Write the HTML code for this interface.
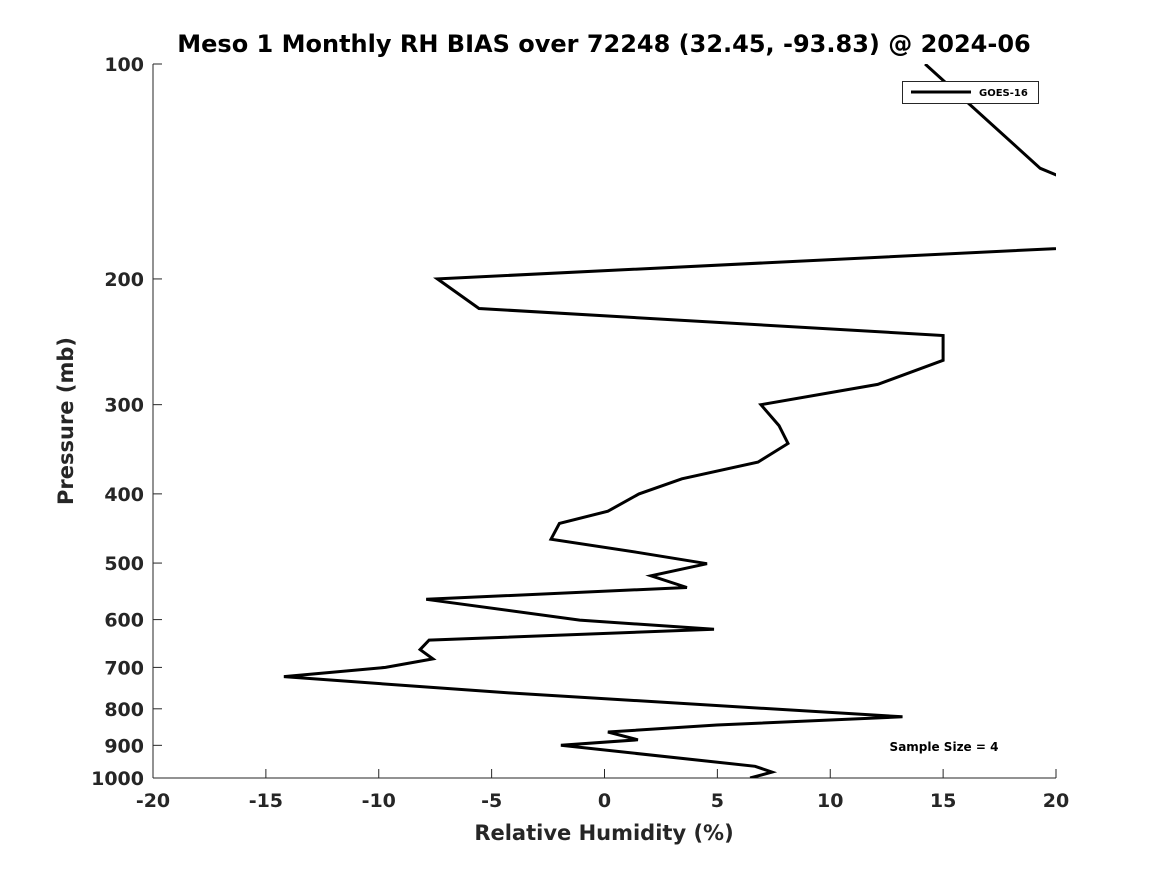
<!DOCTYPE html>
<html><head><meta charset="utf-8"><style>
html,body{margin:0;padding:0;background:#fff;}
svg{display:block;font-family:"DejaVu Sans","Liberation Sans",sans-serif;font-weight:bold;}
</style></head><body>
<svg id="chart" width="1167" height="875" viewBox="0 0 1167 875" xmlns="http://www.w3.org/2000/svg">
<defs><clipPath id="plotclip"><rect x="153" y="64" width="903" height="714"/></clipPath></defs>
<rect width="1167" height="875" fill="#fff"/>
<text x="604" y="52" text-anchor="middle" font-size="24" fill="#000">Meso 1 Monthly RH BIAS over 72248 (32.45, -93.83) @ 2024-06</text>
<g id="axes"></g>
<g id="series" clip-path="url(#plotclip)"></g>
<g>
<rect x="902.5" y="81.5" width="136" height="22" fill="#fff" stroke="#262626" stroke-width="1"/>
<line x1="911" y1="92" x2="971" y2="92" stroke="#000" stroke-width="3"/>
<text x="979" y="96" font-size="10" fill="#000">GOES-16</text>
</g>
<text x="944" y="751" text-anchor="middle" font-size="12" fill="#000">Sample Size = 4</text>
<text x="604" y="840" text-anchor="middle" font-size="21" fill="#262626">Relative Humidity (%)</text>
<text transform="translate(73,421) rotate(-90)" text-anchor="middle" font-size="21" fill="#262626">Pressure (mb)</text>
</svg>
<script>
const pressures = [100,140,143,150,175,200,220,240,260,281,300,321,340,361,381,400,423,440,463,483,501,521,541,562,601,619,641,661,681,700,721,744,760,821,843,862,884,900,963,981,1000];
const rhBias = [14.2,19.3,20,21.5,30,-7.4,-5.56,15.0,15.0,12.1,6.93,7.73,8.13,6.8,3.43,1.53,0.15,-2.0,-2.37,1.44,4.54,2.06,3.65,-7.9,-1.1,4.85,-7.77,-8.17,-7.6,-9.7,-14.2,-8.35,-4.23,13.2,4.98,0.15,1.48,-1.93,6.67,7.42,6.45];
const xTicks = [-20,-15,-10,-5,0,5,10,15,20];
const yTicks = [100,200,300,400,500,600,700,800,900,1000];
const NS='http://www.w3.org/2000/svg';
const X0=153,X1=1056,Y0=64,Y1=778,XMIN=-20,XMAX=20;
function xs(v){return X0+(v-XMIN)/(XMAX-XMIN)*(X1-X0);}
function ys(p){return Y0+(Math.log10(p)-2)*(Y1-Y0);}
function mk(tag,attrs,parent){const e=document.createElementNS(NS,tag);for(const k in attrs)e.setAttribute(k,attrs[k]);parent.appendChild(e);return e;}
const axes=document.getElementById('axes');
const xl=mk('line',{x1:X0,y1:Y1,x2:X1,y2:Y1,stroke:'#262626','stroke-width':1},axes);


const yl=mk('line',{x1:X0,y1:Y0,x2:X0,y2:Y1,stroke:'#262626','stroke-width':1},axes);


xTicks.forEach(t=>{
  const x=xs(t);
  const tk=mk('line',{x1:x,y1:Y1,x2:x,y2:Y1-9,stroke:'#262626','stroke-width':1},axes);
  
  
  const tx=mk('text',{x:x,y:Y1+29,'text-anchor':'middle','font-size':19,fill:'#262626'},axes);
  tx.textContent=String(t);
  
  
});
yTicks.forEach(t=>{
  const y=ys(t);
  const tk=mk('line',{x1:X0,y1:y,x2:X0+9,y2:y,stroke:'#262626','stroke-width':1},axes);
  
  
  const tx=mk('text',{x:X0-9,y:y+7,'text-anchor':'end','font-size':19,fill:'#262626'},axes);
  tx.textContent=String(t);
  
  
});
const series=document.getElementById('series');
const pts=pressures.map((p,i)=>xs(rhBias[i]).toFixed(1)+','+ys(p).toFixed(1)).join(' ');
const line=mk('polyline',{points:pts,fill:'none',stroke:'#000','stroke-width':3,'stroke-linejoin':'miter'},series);


</script>
</body></html>
